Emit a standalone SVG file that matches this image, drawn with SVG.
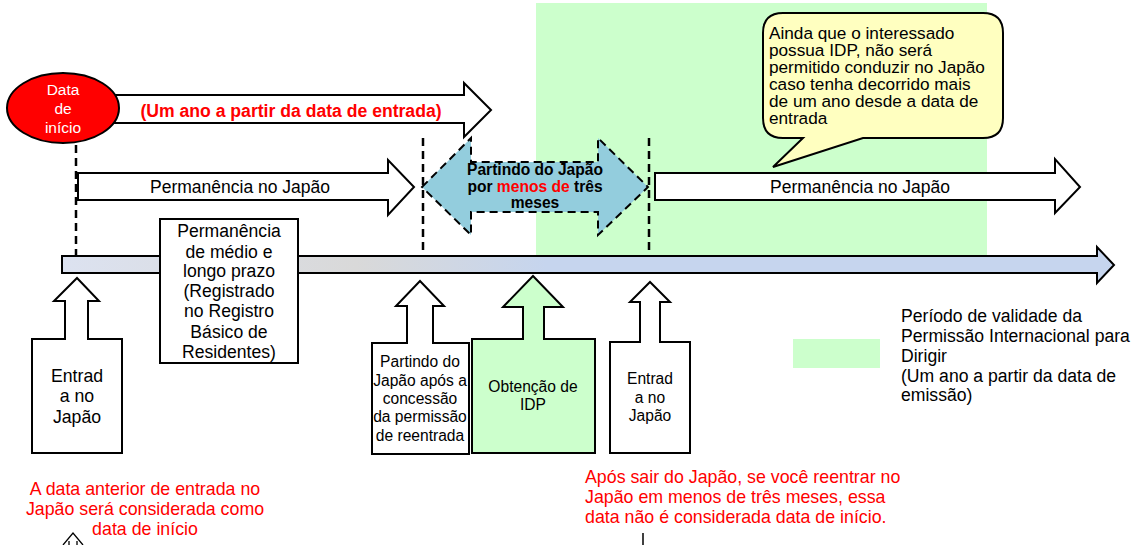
<svg xmlns="http://www.w3.org/2000/svg" width="1140" height="545" viewBox="0 0 1140 545">
<defs>
<linearGradient id="bar" x1="62" y1="0" x2="1114" y2="0" gradientUnits="userSpaceOnUse">
<stop offset="0" stop-color="#dce2f0"/>
<stop offset="0.28" stop-color="#d9d9d9"/>
<stop offset="0.46" stop-color="#c6d5ee"/>
<stop offset="1" stop-color="#c6d5ee"/>
</linearGradient>
<style>
text{font-family:"Liberation Sans",Arial,sans-serif;fill:#000}
.sh{stroke:#000;stroke-width:2;stroke-linejoin:miter}
.w{fill:#fff}
.dash{stroke:#000;stroke-width:2.5;stroke-dasharray:8,5;fill:none}
.c{text-anchor:middle}
.r{fill:#ff0000}
</style>
</defs>
<rect x="536" y="3" width="451" height="252" fill="#ccffcc"/>
<g id="connectors">
<line class="dash" x1="76" y1="145" x2="76" y2="256"/>
<line class="dash" x1="423" y1="138" x2="423" y2="256"/>
<line class="dash" x1="649" y1="138" x2="649" y2="256"/>
</g>
<g id="timeline">
<path class="sh" fill="url(#bar)" d="M62,256 H1097 V247 L1114,265 L1097,283 V273 H62 Z"/>
</g>
<g id="one-year">
<path class="sh w" d="M100,95 H464 V83 L491,110 L464,137 V123 H100 Z"/>
<text x="291" y="117" class="c r" font-size="17.6" font-weight="bold" style="fill:#ff0000">(Um ano a partir da data de entrada)</text>
</g>
<g id="start-date">
<ellipse cx="63" cy="108" rx="56" ry="35" fill="#ff0000" stroke="#000" stroke-width="2"/>
<text x="63" y="95" class="c" font-size="15.5" style="fill:#fff">Data</text>
<text x="63" y="114" class="c" font-size="15.5" style="fill:#fff">de</text>
<text x="63" y="133" class="c" font-size="15.5" style="fill:#fff">início</text>
</g>
<g id="stay-1">
<path class="sh w" d="M78,173 H388 V160 L414,187 L388,215 V200 H78 Z"/>
<text x="240" y="193" class="c" font-size="17.5">Permanência no Japão</text>
</g>
<g id="leaving">
<path d="M422,187 L471,138 V162 H598 V138 L648,187 L598,235 V212 H471 V235 Z" fill="#93cddd" stroke="#000" stroke-width="2" stroke-dasharray="8,5"/>
<text x="535" y="175" class="c" font-size="15.6" font-weight="bold">Partindo do Japão</text>
<text x="535" y="192" class="c" font-size="15.6" font-weight="bold">por <tspan style="fill:#ff0000">menos de</tspan> três</text>
<text x="535" y="208" class="c" font-size="15.6" font-weight="bold">meses</text>
</g>
<g id="stay-2">
<path class="sh w" d="M655,173 H1055 V159 L1080,187 L1055,213 V200 H655 Z"/>
<text x="860" y="193" class="c" font-size="17.5">Permanência no Japão</text>
</g>
<g id="note">
<path class="sh" fill="#ffffc0" d="M783,13 H983 Q1003,13 1003,33 V118 Q1003,138 983,138 H863 L773,167 L803,138 H783 Q763,138 763,118 V33 Q763,13 783,13 Z"/>
<text x="769" y="39" font-size="17.2">Ainda que o interessado</text>
<text x="769" y="56" font-size="17.2">possua IDP, não será</text>
<text x="769" y="73" font-size="17.2">permitido conduzir no Japão</text>
<text x="769" y="90" font-size="17.2">caso tenha decorrido mais</text>
<text x="769" y="107" font-size="17.2">de um ano desde a data de</text>
<text x="769" y="124" font-size="17.2">entrada</text>
</g>
<g id="mid-long-stay">
<rect class="sh w" x="160" y="219" width="138" height="144"/>
<text x="229" y="237" class="c" font-size="17.6">Permanência</text>
<text x="229" y="258" class="c" font-size="17.6">de médio e</text>
<text x="229" y="277" class="c" font-size="17.6">longo prazo</text>
<text x="229" y="297" class="c" font-size="17.6">(Registrado</text>
<text x="229" y="317" class="c" font-size="17.6">no Registro</text>
<text x="229" y="338" class="c" font-size="17.6">Básico de</text>
<text x="229" y="358" class="c" font-size="17.6">Residentes)</text>
</g>
<g id="entry-1">
<path class="sh w" d="M32,339 H65 V301 H54 L77,278 L99,301 H88 V339 H122 V453 H32 Z"/>
<text x="77" y="382" class="c" font-size="17.7">Entrad</text>
<text x="77" y="402" class="c" font-size="17.7">a no</text>
<text x="77" y="423" class="c" font-size="17.7">Japão</text>
</g>
<g id="departure">
<path class="sh w" d="M372,343 H407 V306 H396 L420,281 L444,306 H433 V343 H469 V454 H372 Z"/>
<text x="420" y="367" class="c" font-size="15.6">Partindo do</text>
<text x="420" y="386" class="c" font-size="15.6">Japão após a</text>
<text x="420" y="404" class="c" font-size="15.6">concessão</text>
<text x="420" y="422" class="c" font-size="15.6">da permissão</text>
<text x="420" y="441" class="c" font-size="15.6">de reentrada</text>
</g>
<g id="idp">
<path class="sh" fill="#ccffcc" d="M472,339 H523 V307 H503 L533,276 L563,307 H544 V339 H595 V453 H472 Z"/>
<text x="533" y="392" class="c" font-size="15.6">Obtenção de</text>
<text x="533" y="410" class="c" font-size="15.6">IDP</text>
</g>
<g id="entry-2">
<path class="sh w" d="M610,342 H640 V302 H630 L650,282 L670,302 H660 V342 H690 V453 H610 Z"/>
<text x="650" y="384" class="c" font-size="15.6">Entrad</text>
<text x="650" y="403" class="c" font-size="15.6">a no</text>
<text x="650" y="421" class="c" font-size="15.6">Japão</text>
</g>
<g id="legend">
<rect x="793" y="339" width="87" height="29" fill="#ccffcc"/>
<text x="901" y="322" font-size="17.6">Período de validade da</text>
<text x="901" y="342" font-size="17.6">Permissão Internacional para</text>
<text x="901" y="362" font-size="17.6">Dirigir</text>
<text x="901" y="382" font-size="17.6">(Um ano a partir da data de</text>
<text x="901" y="401" font-size="17.6">emissão)</text>
</g>
<g id="note-previous">
<text x="145" y="495" class="c r" font-size="17.8" style="fill:#ff0000">A data anterior de entrada no</text>
<text x="145" y="515" class="c r" font-size="17.8" style="fill:#ff0000">Japão será considerada como</text>
<text x="145" y="535" class="c r" font-size="17.8" style="fill:#ff0000">data de início</text>
<path d="M63,545 L73,533 L83,545 M69,545 V541 M77,545 V541" fill="none" stroke="#000" stroke-width="1.3"/>
</g>
<g id="note-reentry">
<text x="585" y="483" class="r" font-size="17.8" style="fill:#ff0000">Após sair do Japão, se você reentrar no</text>
<text x="585" y="503" class="r" font-size="17.8" style="fill:#ff0000">Japão em menos de três meses, essa</text>
<text x="585" y="523" class="r" font-size="17.8" style="fill:#ff0000">data não é considerada data de início.</text>
<line x1="643" y1="533" x2="643" y2="545" stroke="#000" stroke-width="1.5"/>
</g>
</svg>
